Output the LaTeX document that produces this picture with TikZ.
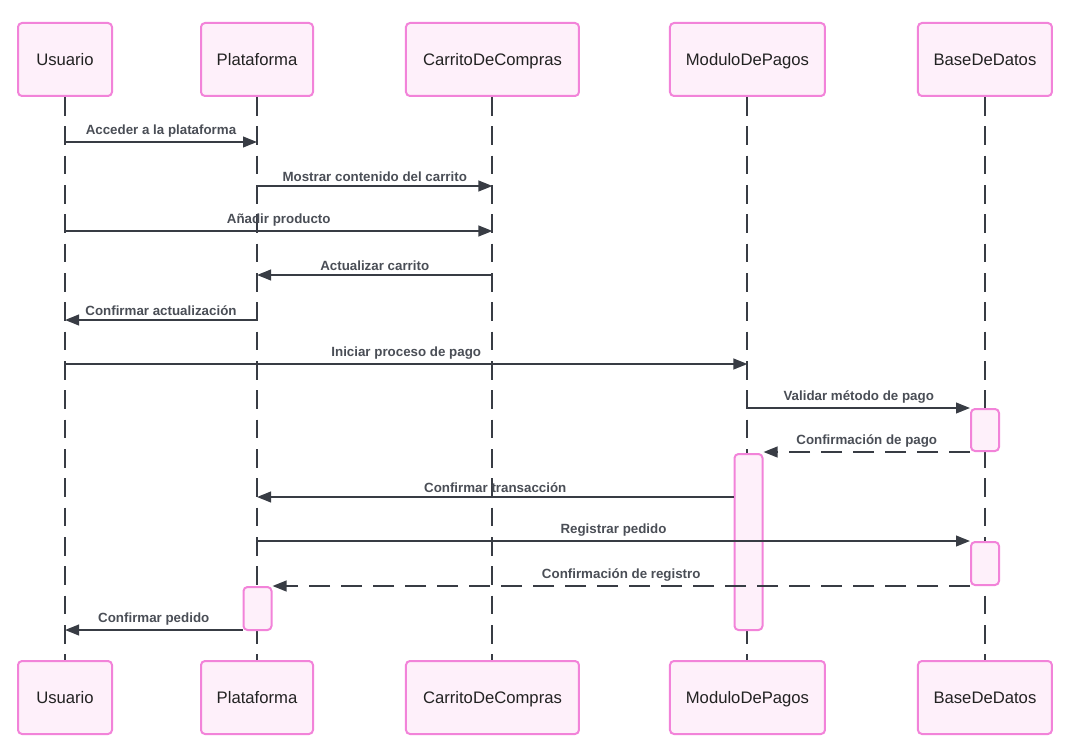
\documentclass[tikz,border=0pt]{standalone}
\usepackage{fontspec}
\setmainfont{Liberation Sans}
\usepackage{tikz}
\usetikzlibrary{arrows.meta}
\definecolor{actorfill}{HTML}{FEF0FA}
\definecolor{actordraw}{HTML}{F283D9}
\definecolor{msgline}{HTML}{383C44}
\definecolor{msgtext}{HTML}{4A4E56}
\definecolor{actortext}{HTML}{222222}
\tikzstyle{actor} = [rectangle, 
rounded corners=3pt, 
minimum height=54.75pt, 
text centered, 
text height=11pt, 
text depth=2pt, 
draw=actordraw, 
line width=1.5pt, 
fill=actorfill, 
text=actortext, 
font=\fontsize{12.5}{15}\selectfont]
\tikzstyle{activation} = [rectangle, 
rounded corners=3pt, 
minimum width=21pt, 
inner sep=0pt, 
draw=actordraw, 
line width=1.5pt, 
fill=actorfill]
\tikzstyle{lifeline} = [draw=msgline, line width=1.5pt, dash pattern=on 14pt off 8pt]
\tikzstyle{msg} = [draw=msgline, line width=1.5pt, -{Triangle[length=10.5pt,width=8pt]}]
\tikzstyle{reply} = [msg, dash pattern=on 16pt off 8pt]
\tikzstyle{lbl} = [midway, above=1pt, inner sep=1.5pt, text=msgtext, font=\fontsize{10}{12}\selectfont\bfseries]

\begin{document}
\begin{tikzpicture}[x=0.75pt, y=-0.75pt, node distance=0pt]
\useasboundingbox (0,0) rectangle (1092,742);

\node (usr_top) [actor, minimum width=70.5pt] at (65,59.5) {Usuario};
\node (plat_top) [actor, minimum width=84pt, right of=usr_top, xshift=144pt] {Plataforma};
\node (cart_top) [actor, minimum width=129.75pt, right of=plat_top, xshift=176.6pt] {CarritoDeCompras};
\node (mod_top) [actor, minimum width=116.25pt, right of=cart_top, xshift=191.25pt] {ModuloDePagos};
\node (db_top) [actor, minimum width=100.5pt, right of=mod_top, xshift=178.1pt] {BaseDeDatos};

\node (usr_bot) [actor, minimum width=70.5pt, below of=usr_top, yshift=-478.5pt] {Usuario};
\node (plat_bot) [actor, minimum width=84pt, below of=plat_top, yshift=-478.5pt] {Plataforma};
\node (cart_bot) [actor, minimum width=129.75pt, below of=cart_top, yshift=-478.5pt] {CarritoDeCompras};
\node (mod_bot) [actor, minimum width=116.25pt, below of=mod_top, yshift=-478.5pt] {ModuloDePagos};
\node (db_bot) [actor, minimum width=100.5pt, below of=db_top, yshift=-478.5pt] {BaseDeDatos};

\draw[lifeline] (usr_top.south) -- (usr_bot.north);
\draw[lifeline] (plat_top.south) -- (plat_bot.north);
\draw[lifeline] (cart_top.south) -- (cart_bot.north);
\draw[lifeline] (mod_top.south) -- (mod_bot.north);
\draw[lifeline] (db_top.south) -- (db_bot.north);

\node (act_db1) [activation, minimum height=31.5pt] at (985,430) {};
\node (act_mod) [activation, minimum height=132pt] at (748.5,542) {};
\node (act_db2) [activation, minimum height=32.25pt] at (985,563.5) {};
\node (act_plat) [activation, minimum height=32.25pt] at (257.5,608.5) {};

\coordinate (r1) at (0,142);
\coordinate (r2) at (0,186);
\coordinate (r3) at (0,231);
\coordinate (r4) at (0,275);
\coordinate (r5) at (0,320);
\coordinate (r6) at (0,364);
\coordinate (r7) at (0,408);
\coordinate (r8) at (0,452);
\coordinate (r9) at (0,497);
\coordinate (r10) at (0,541);
\coordinate (r11) at (0,586);
\coordinate (r12) at (0,630);

\draw[msg] (usr_top |- r1) -- node[lbl] {Acceder a la plataforma} (plat_top |- r1);
\draw[msg] (plat_top |- r2) -- node[lbl] {Mostrar contenido del carrito} (cart_top |- r2);
\draw[msg] (usr_top |- r3) -- node[lbl] {Añadir producto} (cart_top |- r3);
\draw[msg] (cart_top |- r4) -- node[lbl] {Actualizar carrito} (plat_top |- r4);
\draw[msg] (plat_top |- r5) -- node[lbl] {Confirmar actualización} (usr_top |- r5);
\draw[msg] (usr_top |- r6) -- node[lbl] {Iniciar proceso de pago} (mod_top |- r6);
\draw[msg] (mod_top |- r7) -- node[lbl] {Validar método de pago} (act_db1.west |- r7);
\draw[reply] (act_db1.west |- r8) -- node[lbl] {Confirmación de pago} (act_mod.east |- r8);
\draw[msg] (act_mod.west |- r9) -- node[lbl] {Confirmar transacción} (plat_top |- r9);
\draw[msg] (plat_top |- r10) -- node[lbl] {Registrar pedido} (act_db2.west |- r10);
\draw[reply] (act_db2.west |- r11) -- node[lbl] {Confirmación de registro} (act_plat.east |- r11);
\draw[msg] (act_plat.west |- r12) -- node[lbl] {Confirmar pedido} (usr_top |- r12);

\end{tikzpicture}
\end{document}
